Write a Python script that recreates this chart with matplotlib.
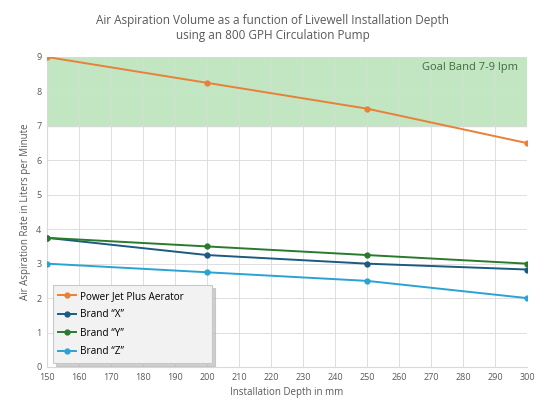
import matplotlib
matplotlib.use("Agg")
import matplotlib.pyplot as plt

depth = [150, 200, 250, 300]
power_jet = [9.0, 8.25, 7.5, 6.5]
brand_x = [3.75, 3.25, 3.0, 2.83]
brand_y = [3.75, 3.5, 3.25, 3.0]
brand_z = [3.0, 2.75, 2.5, 2.0]
series_names = ["Power Jet Plus Aerator", "Brand \u201cX\u201d", "Brand \u201cY\u201d", "Brand \u201cZ\u201d"]
band_low, band_high = 7, 9

plt.rcParams['font.family'] = ['Open Sans', 'DejaVu Sans']

fig = plt.figure(figsize=(5.45, 4.13), dpi=100)
ax = fig.add_axes([0.0862, 0.1114, 0.881, 0.7506])

ax.axhspan(band_low, band_high, color='#c2e6c2', zorder=0)
ax.text(297, 8.7, "Goal Band 7-9 lpm", ha='right', va='center', fontsize=8, color='#3f6b3f')

colors = ['#e8803a', '#1d5a80', '#2a7a2e', '#2aa3d4']
for vals, name, c in zip([power_jet, brand_x, brand_y, brand_z], series_names, colors):
    ax.plot(depth, vals, color=c, marker='o', markersize=3.5, linewidth=1.4, label=name, zorder=3)

ax.set_xlim(150, 300)
ax.set_ylim(0, 9)
ax.set_xticks(range(150, 301, 10))
ax.set_yticks(range(0, 10))
ax.grid(True, color='#d9d9d9', linewidth=0.6, zorder=1)
ax.set_axisbelow(True)
for s in ['top', 'right']:
    ax.spines[s].set_visible(False)
for s in ['left', 'bottom']:
    ax.spines[s].set_color('#d9d9d9')
ax.tick_params(length=0, labelsize=6.5, colors='#595959', pad=4)

ax.set_xlabel("Installation Depth in mm", fontsize=7, color='#595959')
ax.set_ylabel("Air Aspiration Rate in Liters per Minute", fontsize=7, color='#595959')
fig.suptitle("Air Aspiration Volume as a function of Livewell Installation Depth\nusing an 800 GPH Circulation Pump",
             fontsize=8.5, color='#595959', y=0.965)

leg = ax.legend(loc='lower left', bbox_to_anchor=(0.0125, 0.013, 0.331, 0.24), mode='expand',
                fontsize=7.2, frameon=True, fancybox=False,
                shadow={'color': '#b0b0b0', 'alpha': 0.6, 'ox': 2, 'oy': -2},
                facecolor='#f2f2f2', edgecolor='#c8c8c8',
                borderpad=0.55, labelspacing=0.75, handlelength=1.8, handletextpad=0.4, borderaxespad=0)
leg.get_frame().set_linewidth(0.8)

fig.savefig("out.png", dpi=100)
